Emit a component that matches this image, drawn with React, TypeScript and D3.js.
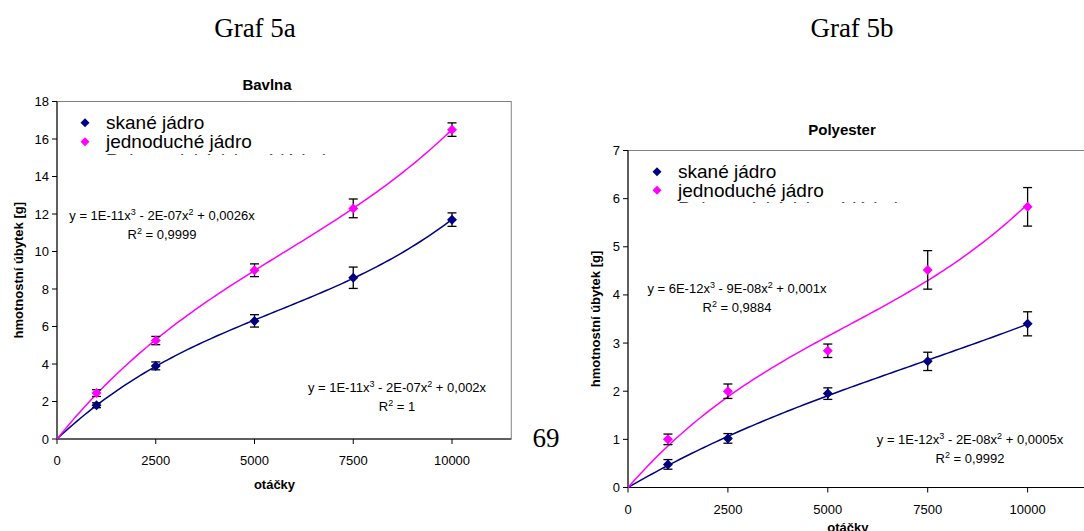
import React from 'react';
import * as d3 from 'd3';

// otáčky (revolutions) at which samples were weighed
const otacky = [1000, 2500, 5000, 7500, 10000];
const xTicks = [0, 2500, 5000, 7500, 10000];

// Graf 5a - Bavlna
const bavlnaSkane = [1.8, 3.9, 6.3, 8.6, 11.7];
const bavlnaSkaneErr = [0.13, 0.21, 0.33, 0.57, 0.36];
const bavlnaJednoduche = [2.45, 5.25, 9.0, 12.3, 16.5];
const bavlnaJednoducheErr = [0.18, 0.22, 0.34, 0.5, 0.36];
const bavlnaYTicks = [0, 2, 4, 6, 8, 10, 12, 14, 16, 18];

// Graf 5b - Polyester
const polySkane = [0.48, 1.02, 1.95, 2.62, 3.4];
const polySkaneErr = [0.1, 0.1, 0.12, 0.19, 0.25];
const polyJednoduche = [1.0, 2.0, 2.84, 4.52, 5.83];
const polyJednoducheErr = [0.11, 0.15, 0.14, 0.4, 0.4];
const polyYTicks = [0, 1, 2, 3, 4, 5, 6, 7];

const NAVY = '#000080';
const PINK = '#ff00ff';
const SANS = '"Liberation Sans", Arial, sans-serif';
const SERIF = '"Liberation Serif", "Times New Roman", serif';

// least squares polynomial y = a x + b x^2 + c x^3 (intercept fixed at 0), like Excel's trendline
function cubicFit(xs: number[], ys: number[]) {
  const s = 10000;
  const rows = xs.map(x => [x / s, (x / s) ** 2, (x / s) ** 3]);
  const A = [0, 1, 2].map(i => [0, 1, 2].map(j => d3.sum(rows, r => r[i] * r[j])));
  const b = [0, 1, 2].map(i => d3.sum(rows, (r, k) => r[i] * ys[k]));
  // gaussian elimination
  for (let i = 0; i < 3; i++) {
    for (let k = i + 1; k < 3; k++) {
      const f = A[k][i] / A[i][i];
      for (let j = i; j < 3; j++) A[k][j] -= f * A[i][j];
      b[k] -= f * b[i];
    }
  }
  const c = [0, 0, 0];
  for (let i = 2; i >= 0; i--) {
    let v = b[i];
    for (let j = i + 1; j < 3; j++) v -= A[i][j] * c[j];
    c[i] = v / A[i][i];
  }
  return (x: number) => c[0] * (x / s) + c[1] * (x / s) ** 2 + c[2] * (x / s) ** 3;
}

type Series = { values: number[]; err: number[]; color: string };

type PanelProps = {
  id: string;
  title: string;
  titleX: number;
  titleY: number;
  left: number;
  xStep: number;
  top: number;
  bottom: number;
  yMax: number;
  yTicks: number[];
  series: Series[];
  legend: { x: number; y: number; gap: number };
  eqs: { x: number; y: number; eq: React.ReactNode; r2: string }[];
  yLabelX: number;
  xLabelY: number;
};

const Diamond = ({ cx, cy, r, fill }: { cx: number; cy: number; r: number; fill: string }) => (
  <path d={`M${cx},${cy - r}L${cx + r},${cy}L${cx},${cy + r}L${cx - r},${cy}Z`} fill={fill} />
);

const Panel = (p: PanelProps) => {
  const x = d3.scaleLinear().domain([0, 11500]).range([p.left, p.left + (11500 / 2500) * p.xStep]);
  const y = d3.scaleLinear().domain([0, p.yMax]).range([p.bottom, p.top]);
  const [x0, x1] = x.range();
  const curveXs = d3.range(0, 10001, 100);
  const line = d3.line<number[]>().x(d => x(d[0])).y(d => y(d[1]));

  return (
    <g fontFamily={SANS}>
      <text x={p.titleX} y={p.titleY} textAnchor="middle" fontWeight="bold" fontSize={15}>{p.title}</text>
      {/* plot area border */}
      <rect x={x0} y={p.top} width={x1 - x0} height={p.bottom - p.top} fill="none" stroke="#808080" strokeWidth={1} />
      <line x1={x0} x2={x0} y1={p.top} y2={p.bottom} stroke="#000" />
      <line x1={x0} x2={x1} y1={p.bottom} y2={p.bottom} stroke="#000" />
      {p.yTicks.map(t => (
        <g key={t}>
          <line x1={x0 - 5} x2={x0} y1={y(t)} y2={y(t)} stroke="#000" />
          <text x={x0 - 8} y={y(t) + 4.5} textAnchor="end" fontSize={13}>{t}</text>
        </g>
      ))}
      {xTicks.map(t => (
        <g key={t}>
          <line x1={x(t)} x2={x(t)} y1={p.bottom} y2={p.bottom + 5} stroke="#000" />
          <text x={x(t)} y={p.bottom + 26} textAnchor="middle" fontSize={13}>{t}</text>
        </g>
      ))}
      <text x={(x0 + x(10000) + 40) / 2} y={p.xLabelY} textAnchor="middle" fontWeight="bold" fontSize={13}>otáčky</text>
      <text transform={`translate(${p.yLabelX},${(p.top + p.bottom) / 2}) rotate(-90)`} textAnchor="middle"
        dy={4.5} fontWeight="bold" fontSize={13}>hmotnostní úbytek [g]</text>

      {/* trendlines */}
      {p.series.map((s, i) => {
        const f = cubicFit(otacky, s.values);
        return <path key={i} d={line(curveXs.map(v => [v, f(v)])) || ''} fill="none" stroke={s.color} strokeWidth={1.5} />;
      })}
      {/* error bars and markers */}
      {p.series.map((s, i) => (
        <g key={i}>
          {otacky.map((o, k) => (
            <g key={o} stroke="#000" strokeWidth={1.3}>
              <line x1={x(o)} x2={x(o)} y1={y(s.values[k] - s.err[k])} y2={y(s.values[k] + s.err[k])} />
              <line x1={x(o) - 4.5} x2={x(o) + 4.5} y1={y(s.values[k] - s.err[k])} y2={y(s.values[k] - s.err[k])} />
              <line x1={x(o) - 4.5} x2={x(o) + 4.5} y1={y(s.values[k] + s.err[k])} y2={y(s.values[k] + s.err[k])} />
            </g>
          ))}
          {otacky.map((o, k) => (
            <Diamond key={o} cx={x(o)} cy={y(s.values[k])} r={5} fill={s.color} />
          ))}
        </g>
      ))}

      {/* legend */}
      <Diamond cx={p.legend.x} cy={p.legend.y} r={4.5} fill={NAVY} />
      <Diamond cx={p.legend.x + 0} cy={p.legend.y + p.legend.gap} r={4.5} fill={PINK} />
      <text x={p.legend.x + 21} y={p.legend.y + 6.5} fontSize={19}>skané jádro</text>
      <text x={p.legend.x + 21} y={p.legend.y + p.legend.gap + 6.5} fontSize={19}>jednoduché jádro</text>
      <clipPath id={`clip-${p.id}`}>
        <rect x={p.legend.x + 15} y={p.legend.y + 2 * p.legend.gap - 9} width={240} height={3.2} />
      </clipPath>
      <text x={p.legend.x + 21} y={p.legend.y + 2 * p.legend.gap + 6.5} fontSize={19} fill="#444"
        clipPath={`url(#clip-${p.id})`}>Polynomický (skané jádro)</text>

      {/* trendline equations */}
      {p.eqs.map((e, i) => (
        <g key={i} fontSize={13}>
          <text x={e.x} y={e.y} textAnchor="middle">{e.eq}</text>
          <text x={e.x} y={e.y + 19} textAnchor="middle">R<tspan dy={-5} fontSize={9}>2</tspan><tspan dy={5}> = {e.r2}</tspan></text>
        </g>
      ))}
    </g>
  );
};

const Eq = ({ a, b, c }: { a: string; b: string; c: string }) => (
  <>
    y = {a}x<tspan dy={-5} fontSize={9}>3</tspan><tspan dy={5}> - {b}x</tspan>
    <tspan dy={-5} fontSize={9}>2</tspan><tspan dy={5}> + {c}x</tspan>
  </>
);

export default function App() {
  return (
    <svg width={1084} height={531} style={{ position: 'absolute', left: 0, top: 0, background: '#fff' }}>
      <rect width={1084} height={531} fill="#fff" />
      <text x={255} y={37} textAnchor="middle" fontFamily={SERIF} fontSize={27}>Graf 5a</text>
      <text x={852} y={37} textAnchor="middle" fontFamily={SERIF} fontSize={27}>Graf 5b</text>
      <text x={546} y={447} textAnchor="middle" fontFamily={SERIF} fontSize={27}>69</text>
      <Panel
        id="a"
        title="Bavlna"
        titleX={267}
        titleY={90}
        left={57}
        xStep={98.75}
        top={101.5}
        bottom={439}
        yMax={18}
        yTicks={bavlnaYTicks}
        series={[
          { values: bavlnaSkane, err: bavlnaSkaneErr, color: NAVY },
          { values: bavlnaJednoduche, err: bavlnaJednoducheErr, color: PINK },
        ]}
        legend={{ x: 85, y: 122.7, gap: 19 }}
        eqs={[
          { x: 162, y: 219.5, eq: <Eq a="1E-11" b="2E-07" c="0,0026" />, r2: '0,9999' },
          { x: 397, y: 391.5, eq: <Eq a="1E-11" b="2E-07" c="0,002" />, r2: '1' },
        ]}
        yLabelX={18}
        xLabelY={489}
      />
      <Panel
        id="b"
        title="Polyester"
        titleX={842}
        titleY={135}
        left={628}
        xStep={99.9}
        top={150.5}
        bottom={487.5}
        yMax={7}
        yTicks={polyYTicks}
        series={[
          { values: polySkane, err: polySkaneErr, color: NAVY },
          { values: polyJednoduche, err: polyJednoducheErr, color: PINK },
        ]}
        legend={{ x: 657, y: 171.7, gap: 18.6 }}
        eqs={[
          { x: 737, y: 292.5, eq: <Eq a="6E-12" b="9E-08" c="0,001" />, r2: '0,9884' },
          { x: 970, y: 443.5, eq: <Eq a="1E-12" b="2E-08" c="0,0005" />, r2: '0,9992' },
        ]}
        yLabelX={595}
        xLabelY={532}
      />
    </svg>
  );
}
